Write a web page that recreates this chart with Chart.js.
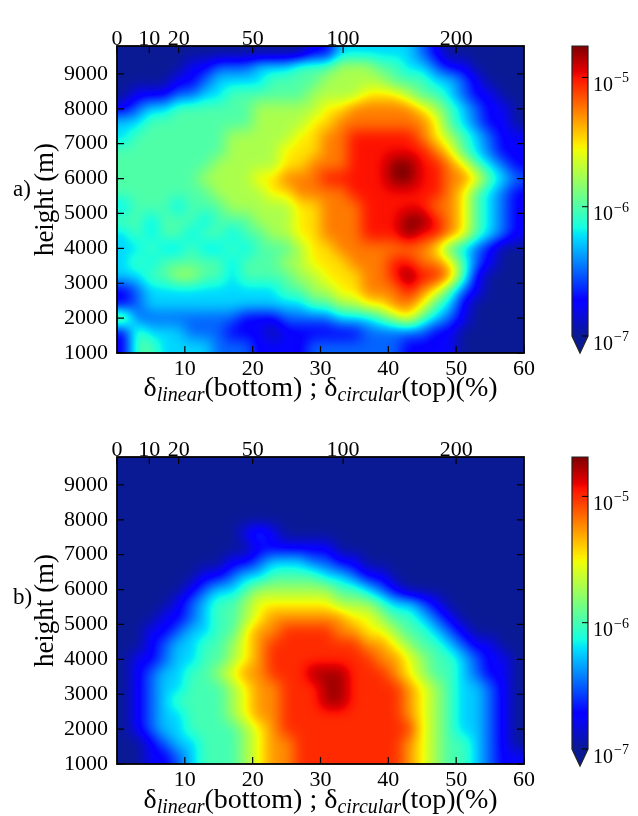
<!DOCTYPE html>
<html>
<head>
<meta charset="utf-8">
<script src="https://cdn.jsdelivr.net/npm/chart.js@4.4.0/dist/chart.umd.min.js"></script>
<style>
  html, body { margin: 0; padding: 0; background: #fff; }
  #page { position: relative; width: 638px; height: 816px; overflow: hidden;
          font-family: "Liberation Serif", "Times New Roman", serif; color: #000; }
  .box { position: absolute; }
  .lbl { position: absolute; font-size: 23px; line-height: 1; }
  .xt { position: absolute; left: 117px; width: 407px; text-align: center; font-size: 28px;
        line-height: 1; white-space: nowrap; }
  .xt sub { font-size: 20px; font-style: italic; vertical-align: -5px; line-height: 0; }
</style>
</head>
<body>
<div id="page">
  <div class="box" style="left:0;top:0"><canvas id="heatA" width="560" height="405"></canvas></div>
  <div class="box" style="left:562px;top:0"><canvas id="barA" width="76" height="405"></canvas></div>
  <div class="box" style="left:0;top:410px"><canvas id="heatB" width="560" height="405"></canvas></div>
  <div class="box" style="left:562px;top:410px"><canvas id="barB" width="76" height="405"></canvas></div>
  <div class="lbl" style="left:13px;top:177px">a)</div>
  <div class="lbl" style="left:13px;top:585px">b)</div>
  <div class="xt" style="top:373px">δ<sub>linear</sub>(bottom) ; δ<sub>circular</sub>(top)(%)</div>
  <div class="xt" style="top:785px">δ<sub>linear</sub>(bottom) ; δ<sub>circular</sub>(top)(%)</div>
</div>
<script>
// bin centres of the 2-D histograms
const linearCenters = [1, 3, 5, 7, 9, 11, 13, 15, 17, 19, 21, 23, 25, 27, 29,
                       31, 33, 35, 37, 39, 41, 43, 45, 47, 49, 51, 53, 55, 57, 59];
const heightCenters = [9600, 9200, 8800, 8400, 8000, 7600, 7200, 6800, 6400, 6000, 5600,
                       5200, 4800, 4400, 4000, 3600, 3200, 2800, 2400, 2000, 1600, 1200];
const linearBin = 2, heightBin = 400;

// density: one digit per cell, in quarter decades above 1e-7
const logFloor = -7, logStep = 0.25;
const densityA = [
  '000000000000001133333321000000',
  '000001122233344455544332110000',
  '000011233334444555554443321000',
  '011122334444445555666544321100',
  '123344444455555667777765432110',
  '334444444455556677777776432110',
  '344444445555566778888876543211',
  '444444445555666778888887643211',
  '444444455555667778889988764321',
  '444444555566777888889988776432',
  '444444455556677778888888764321',
  '344434445555566777888887764321',
  '443444344455566777888998764321',
  '343443443445566777888988764321',
  '334334334344456677777776432100',
  '343444443444556667778877642100',
  '334455443444455666778988741000',
  '123333333333445566777876421000',
  '123333333333334455667764310000',
  '522222222111222233345643210000',
  '143332221110111111222221100000',
  '144333322211112222222111100000'
];
const densityB = [
  '000000000000000000000000000000',
  '000000000000000000000000000000',
  '000000000000000000000000000000',
  '000000000000000000000000000000',
  '000000000000000000000000000000',
  '000000000121000000000000000000',
  '000000000011111100000000000000',
  '000000001123332211000000000000',
  '000000112334444332110000000000',
  '000001233455555544321000000000',
  '000012344566666655543321000000',
  '000112344567777776654432100000',
  '001123344677888877665443210000',
  '001233445678888888776544321100',
  '011233445678888888877654432110',
  '012334456778889998887654432110',
  '012334445677888998888765433210',
  '012344445677888998888765433210',
  '012334445677888888888765433210',
  '012334444567888888888865433210',
  '001233444567788888888765443210',
  '001123444567788888888765443211'
];

const heightTicks = [1000, 2000, 3000, 4000, 5000, 6000, 7000, 8000, 9000];
const linearTicks = [10, 20, 30, 40, 50, 60];
const circularTicks = [0, 10, 20, 50, 100, 200];
const colorTicks = [1e-7, 1e-6, 1e-5];
const vmaxA = 1.75e-5, vmaxB = 2.05e-5;

Chart.defaults.font.family = '"Liberation Serif", "Times New Roman", serif';
Chart.defaults.font.size = 22;
Chart.defaults.color = '#000';

// matplotlib "jet", darkest stop matched to the picture
const jetStops = {
  r: [[0, 0.04], [0.35, 0], [0.66, 1], [0.89, 1], [1, 0.5]],
  g: [[0, 0.1], [0.125, 0], [0.375, 1], [0.64, 1], [0.91, 0], [1, 0]],
  b: [[0, 0.58], [0.11, 1], [0.34, 1], [0.65, 0], [1, 0]]
};
function seg(stops, t) {
  for (let i = 1; i < stops.length; i++) {
    if (t <= stops[i][0]) {
      const [t0, v0] = stops[i - 1], [t1, v1] = stops[i];
      return v0 + (v1 - v0) * (t - t0) / (t1 - t0);
    }
  }
  return stops[stops.length - 1][1];
}
function jet(t) {
  t = Math.max(0, Math.min(1, t));
  return [seg(jetStops.r, t), seg(jetStops.g, t), seg(jetStops.b, t)].map(v => Math.round(v * 255));
}
const jetCss = t => 'rgb(' + jet(t).join(',') + ')';

// circular polarisation ratio -> linear one, for the top axis
const circToLin = c => 100 * c / (200 + c);

// cubic B-spline shading between cell centres (soft, like the original rendering)
function bs(p0, p1, p2, p3, t) {
  const t2 = t * t, t3 = t2 * t;
  return ((1 - t) * (1 - t) * (1 - t) * p0 + (3 * t3 - 6 * t2 + 4) * p1 +
          (-3 * t3 + 3 * t2 + 3 * t + 1) * p2 + t3 * p3) / 6;
}

const heatmapPlugin = {
  id: 'heatmap',
  beforeDatasetsDraw(chart, args, opts) {
    const {ctx, chartArea: a, scales: {x, y}} = chart;
    const cols = linearCenters.length, rows = heightCenters.length;
    const grid = heightCenters.map(() => new Array(cols).fill(logFloor));
    chart.data.datasets[0].data.forEach(p => {
      grid[heightCenters.indexOf(p.y)][linearCenters.indexOf(p.x)] = Math.log10(p.v);
    });
    const left = x.getPixelForValue(linearCenters[0] - linearBin / 2);
    const right = x.getPixelForValue(linearCenters[cols - 1] + linearBin / 2);
    const top = y.getPixelForValue(heightCenters[0] + heightBin / 2);
    const bottom = y.getPixelForValue(heightCenters[rows - 1] - heightBin / 2);
    const W = Math.round(right - left), H = Math.round(bottom - top);
    const ci = (i, n) => Math.max(0, Math.min(n - 1, i));
    const horiz = grid.map(row => {
      const out = new Float32Array(W);
      for (let i = 0; i < W; i++) {
        const u = (i + 0.5) / W * cols - 0.5;
        const c = Math.floor(u), f = u - c;
        out[i] = bs(row[ci(c - 1, cols)], row[ci(c, cols)], row[ci(c + 1, cols)], row[ci(c + 2, cols)], f);
      }
      return out;
    });
    const off = document.createElement('canvas');
    off.width = W; off.height = H;
    const octx = off.getContext('2d');
    const img = octx.createImageData(W, H);
    const lo = logFloor, hi = Math.log10(opts.vmax);
    for (let j = 0; j < H; j++) {
      const v = (j + 0.5) / H * rows - 0.5;
      const r = Math.floor(v), f = v - r;
      const h0 = horiz[ci(r - 1, rows)], h1 = horiz[ci(r, rows)], h2 = horiz[ci(r + 1, rows)], h3 = horiz[ci(r + 2, rows)];
      for (let i = 0; i < W; i++) {
        const val = bs(h0[i], h1[i], h2[i], h3[i], f);
        const rgb = jet((val - lo) / (hi - lo));
        const k = (j * W + i) * 4;
        img.data[k] = rgb[0]; img.data[k + 1] = rgb[1]; img.data[k + 2] = rgb[2]; img.data[k + 3] = 255;
      }
    }
    octx.putImageData(img, 0, 0);
    ctx.save();
    ctx.beginPath();
    ctx.rect(a.left, a.top, a.right - a.left, a.bottom - a.top);
    ctx.clip();
    ctx.drawImage(off, left, top, right - left, bottom - top);
    ctx.restore();
  }
};

// box and inward tick marks
const framePlugin = {
  id: 'frame',
  afterDraw(chart) {
    const {ctx, chartArea: a, scales} = chart;
    const L = 7;
    ctx.save();
    ctx.strokeStyle = '#000';
    ctx.lineWidth = 1.2;
    ctx.beginPath();
    scales.x.ticks.forEach(t => { const p = scales.x.getPixelForValue(t.value); ctx.moveTo(p, a.bottom); ctx.lineTo(p, a.bottom - L); });
    scales.x2.ticks.forEach(t => { const p = scales.x2.getPixelForValue(t.value); ctx.moveTo(p, a.top); ctx.lineTo(p, a.top + L); });
    scales.y.ticks.forEach(t => { const p = scales.y.getPixelForValue(t.value); ctx.moveTo(a.left, p); ctx.lineTo(a.left + L, p); });
    scales.y2.ticks.forEach(t => { const p = scales.y2.getPixelForValue(t.value); ctx.moveTo(a.right, p); ctx.lineTo(a.right - L, p); });
    ctx.stroke();
    ctx.lineWidth = 1.8;
    ctx.strokeRect(a.left, a.top, a.right - a.left, a.bottom - a.top);
    ctx.restore();
  }
};

const colorbarPlugin = {
  id: 'colorbar',
  afterDraw(chart) {
    const {ctx, chartArea: a} = chart;
    const s = chart.scales.y;
    const lo = Math.log10(s.min), hi = Math.log10(s.max);
    const ext = 17, mid = (a.left + a.right) / 2;
    ctx.save();
    for (let py = Math.floor(a.top); py < a.bottom; py++) {
      const v = s.getValueForPixel(py + 0.5);
      ctx.fillStyle = jetCss((Math.log10(v) - lo) / (hi - lo));
      ctx.fillRect(a.left, py, a.right - a.left, 1);
    }
    ctx.fillStyle = jetCss(0);
    ctx.beginPath();
    ctx.moveTo(a.left, a.bottom); ctx.lineTo(a.right, a.bottom); ctx.lineTo(mid, a.bottom + ext);
    ctx.closePath(); ctx.fill();
    ctx.strokeStyle = '#222';
    ctx.lineWidth = 1.2;
    ctx.beginPath();
    ctx.moveTo(a.left, a.top); ctx.lineTo(a.right, a.top); ctx.lineTo(a.right, a.bottom);
    ctx.lineTo(mid, a.bottom + ext); ctx.lineTo(a.left, a.bottom); ctx.closePath();
    ctx.stroke();
    ctx.fillStyle = '#000';
    ctx.strokeStyle = '#000';
    ctx.lineWidth = 1;
    s.ticks.forEach(t => {
      const p = s.getPixelForValue(t.value);
      ctx.beginPath(); ctx.moveTo(a.right, p); ctx.lineTo(a.right - 6, p); ctx.stroke();
      const exp = Math.round(Math.log10(t.value));
      ctx.font = '20px "Liberation Serif"';
      ctx.textBaseline = 'alphabetic';
      ctx.fillText('10', a.right + 5, p + 13.5);
      const w = ctx.measureText('10').width;
      ctx.font = '14px "Liberation Serif"';
      ctx.fillText('\u2212' + Math.abs(exp), a.right + 6 + w, p + 5);
    });
    ctx.restore();
  }
};

const hidden = { grid: { display: false, drawTicks: false }, border: { display: false } };

function makeHeatmap(id, levels, vmax, topH, bottomH) {
  const cells = [];
  levels.forEach((row, r) => {
    for (let c = 0; c < row.length; c++) {
      cells.push({ x: linearCenters[c], y: heightCenters[r], v: Math.pow(10, logFloor + logStep * Number(row[c])) });
    }
  });
  return new Chart(document.getElementById(id), {
    type: 'scatter',
    data: { datasets: [{ data: cells, pointRadius: 0, pointHoverRadius: 0 }] },
    options: {
      responsive: false, animation: false, events: [],
      layout: { padding: 0 },
      plugins: { legend: { display: false }, tooltip: { enabled: false }, heatmap: { vmax } },
      scales: {
        x: { type: 'linear', position: 'bottom', min: 0, max: 60, ...hidden,
             ticks: { padding: 3, autoSkip: false, maxRotation: 0, callback: v => String(v) },
             afterBuildTicks: s => { s.ticks = linearTicks.map(v => ({ value: v })); },
             afterFit: s => { s.height = bottomH; } },
        x2: { type: 'linear', position: 'top', min: 0, max: 60, ...hidden,
              ticks: { padding: -6, autoSkip: false, maxRotation: 0, callback: (v, i) => String(circularTicks[i]) },
              afterBuildTicks: s => { s.ticks = circularTicks.map(c => ({ value: circToLin(c) })); },
              afterFit: s => { s.height = topH; } },
        y: { type: 'linear', position: 'left', min: 1000, max: 9800, ...hidden,
             ticks: { padding: 9, autoSkip: false, callback: v => String(v) },
             title: { display: true, text: 'height (m)', font: { size: 27 }, padding: { top: 30, bottom: 0 } },
             afterBuildTicks: s => { s.ticks = heightTicks.map(v => ({ value: v })); },
             afterFit: s => { s.width = 117; } },
        y2: { type: 'linear', position: 'right', min: 1000, max: 9800, ...hidden,
              ticks: { display: false },
              afterBuildTicks: s => { s.ticks = heightTicks.map(v => ({ value: v })); },
              afterFit: s => { s.width = 36; } }
      }
    },
    plugins: [heatmapPlugin, framePlugin]
  });
}

function makeColorbar(id, vmax, padTop, padBottom) {
  return new Chart(document.getElementById(id), {
    type: 'scatter',
    data: { datasets: [] },
    options: {
      responsive: false, animation: false, events: [],
      layout: { padding: { left: 10, right: 0, top: padTop, bottom: padBottom } },
      plugins: { legend: { display: false }, tooltip: { enabled: false } },
      scales: {
        x: { display: false },
        y: { type: 'logarithmic', position: 'right', min: 1e-7, max: vmax, ...hidden,
             ticks: { display: false },
             afterBuildTicks: s => { s.ticks = colorTicks.map(v => ({ value: v })); },
             afterFit: s => { s.width = 50; } }
      }
    },
    plugins: [colorbarPlugin]
  });
}

makeHeatmap('heatA', densityA, vmaxA, 46, 52);
makeHeatmap('heatB', densityB, vmaxB, 47, 51);
makeColorbar('barA', vmaxA, 46, 69);
makeColorbar('barB', vmaxB, 47, 66);
</script>
</body>
</html>
